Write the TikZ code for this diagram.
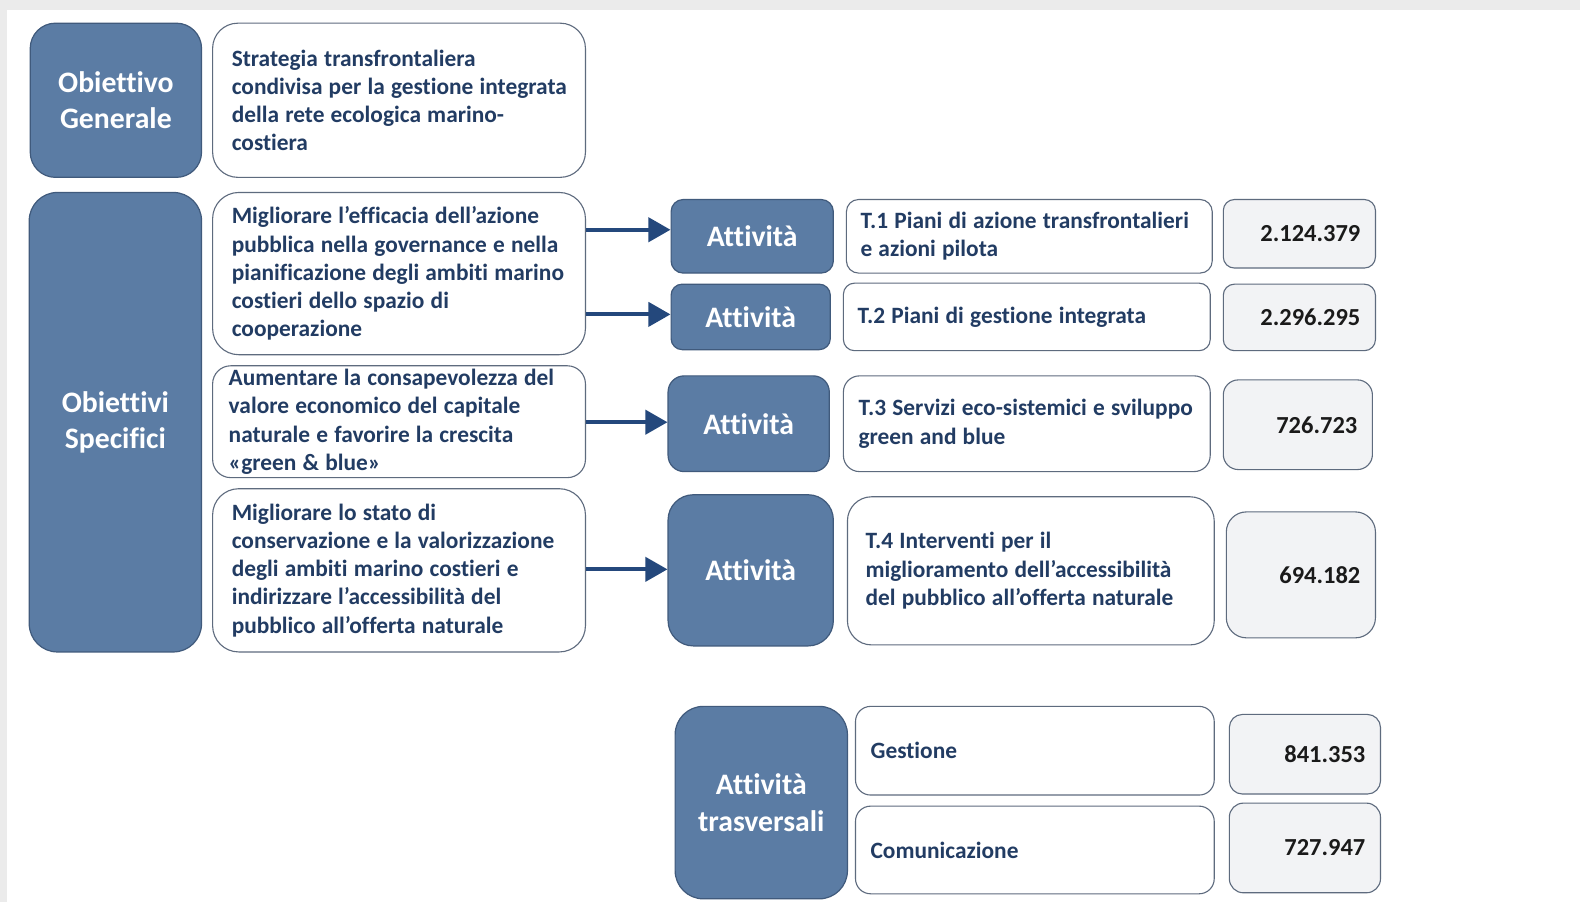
\documentclass[tikz,border=0pt]{standalone}
\usepackage{fontspec}
\setmainfont{Carlito}[Ligatures=NoCommon]
\usetikzlibrary{arrows.meta}
\definecolor{bggray}{HTML}{EBEBEB}
\definecolor{darkfill}{HTML}{5B7CA4}
\definecolor{darkline}{HTML}{405A7C}
\definecolor{navytext}{HTML}{223C63}
\definecolor{boxline}{HTML}{5E6B7E}
\definecolor{numfill}{HTML}{F2F3F5}
\definecolor{numtext}{HTML}{1A1A1A}
\definecolor{arrowcol}{HTML}{24487C}
\newcommand{\tl}[1]{\mbox{\spaceskip=0.265em\relax #1}}
\hfuzz=200pt
\hbadness=10000
\tikzset{
  darkbox/.style={draw=darkline, line width=1.2pt, fill=darkfill, text=white,
    align=center, font=\fontsize{29.5}{36}\selectfont\bfseries, inner sep=0pt},
  whitebox/.style={draw=boxline, line width=1.1pt, fill=white, text=navytext,
    align=left, font=\fontsize{23.2}{28}\selectfont\bfseries, inner ysep=0pt},
  numbox/.style={draw=boxline, line width=1.1pt, fill=numfill, text=numtext,
    align=right, font=\fontsize{24.3}{28}\selectfont\bfseries, inner ysep=0pt, inner xsep=15pt},
  arr/.style={draw=arrowcol, line width=3.8pt, -{Triangle[length=22pt,width=24pt]}}
}
\begin{document}
\begin{tikzpicture}[x=1pt,y=-1pt]
\useasboundingbox (0,0) rectangle (1568,895.15);
\fill[white] (0,0) rectangle (1568,895.15);
\fill[bggray] (0,0) rectangle (1568,10);
\fill[bggray] (0,0) rectangle (7,895.15);

% left column
\node[darkbox, minimum width=170pt, minimum height=153pt, rounded corners=25pt] (og) at (115,99.5) {Obiettivo\\Generale};
\node[darkbox, minimum width=171pt, minimum height=456pt, rounded corners=28pt] (os) at (114.5,419) {Obiettivi\\Specifici};

% objective texts
\node[whitebox, minimum height=153pt, text width=332pt, inner xsep=19pt, rounded corners=25pt] (sg) at (396,99.5)
  {\tl{Strategia transfrontaliera}\\\tl{condivisa per la gestione integrata}\\\tl{della rete ecologica marino-}\\\tl{costiera}};
\node[whitebox, minimum height=161pt, text width=332pt, inner xsep=19pt, rounded corners=26pt] (s1) at (396,271.5)
  {\tl{Migliorare l’efficacia dell’azione}\\\tl{pubblica nella governance e nella}\\\tl{pianificazione degli ambiti marino}\\\tl{costieri dello spazio di}\\\tl{cooperazione}};
\node[whitebox, minimum height=111pt, text width=338pt, inner xsep=16pt, rounded corners=18pt] (s2) at (396,418.5)
  {\tl{Aumentare la consapevolezza del}\\\tl{valore economico del capitale}\\\tl{naturale e favorire la crescita}\\\tl{«green \& blue»}};
\node[whitebox, minimum height=162pt, text width=332pt, inner xsep=19pt, rounded corners=26pt] (s3) at (396,566)
  {\tl{Migliorare lo stato di}\\\tl{conservazione e la valorizzazione}\\\tl{degli ambiti marino costieri e}\\\tl{indirizzare l'accessibilità del}\\\tl{pubblico all’offerta naturale}};

% activities
\node[darkbox, minimum width=161pt, minimum height=73pt, rounded corners=12pt] (a1) at (746.5,234.5) {Attività};
\node[darkbox, minimum width=158pt, minimum height=65pt, rounded corners=11pt] (a2) at (745,314.5) {Attività};
\node[darkbox, minimum width=160pt, minimum height=95pt, rounded corners=16pt] (a3) at (743,420.5) {Attività};
\node[darkbox, minimum width=164pt, minimum height=150pt, rounded corners=25pt] (a4) at (745,566) {Attività};

% activity descriptions
\node[whitebox, minimum height=73pt, text width=335pt, inner xsep=14pt, rounded corners=12pt] (t1) at (1021.5,234.5)
  {\tl{T.1 Piani di azione transfrontalieri}\\\tl{e azioni pilota}};
\node[whitebox, minimum height=67pt, text width=336pt, inner xsep=14pt, rounded corners=11pt] (t2) at (1019,314.5)
  {\tl{T.2 Piani di gestione integrata}};
\node[whitebox, minimum height=95pt, text width=334pt, inner xsep=15pt, rounded corners=16pt] (t3) at (1019,420.5)
  {\tl{T.3 Servizi eco-sistemici e sviluppo}\\\tl{green and blue}};
\node[whitebox, minimum height=147pt, text width=328pt, inner xsep=18pt, rounded corners=24pt] (t4) at (1023,566.5)
  {\tl{T.4 Interventi per il}\\\tl{miglioramento dell’accessibilità}\\\tl{del pubblico all’offerta naturale}};

% amounts
\node[numbox, minimum height=68pt, text width=121pt, rounded corners=11pt] (n1) at (1289.5,232) {2.124.379};
\node[numbox, minimum height=66pt, text width=121pt, rounded corners=11pt] (n2) at (1289.5,315) {2.296.295};
\node[numbox, minimum height=89pt, text width=118pt, rounded corners=15pt] (n3) at (1288,421.5) {726.723};
\node[numbox, minimum height=125pt, text width=118pt, rounded corners=20pt] (n4) at (1291,570.5) {694.182};

% transversal
\node[darkbox, minimum width=171pt, minimum height=191pt, rounded corners=28pt] (at) at (755.5,796.5) {Attività\\trasversali};
\node[whitebox, minimum height=88pt, text width=326pt, inner xsep=15pt, rounded corners=15pt] (ge) at (1027,745)
  {\tl{Gestione}};
\node[whitebox, minimum height=87pt, text width=326pt, inner xsep=15pt, rounded corners=15pt] (co) at (1027,843.5)
  {\tl{Comunicazione}};
\node[numbox, minimum height=79pt, text width=120pt, inner xsep=15pt, rounded corners=13pt] (n5) at (1295,748.5) {841.353};
\node[numbox, minimum height=89pt, text width=120pt, inner xsep=15pt, rounded corners=14pt] (n6) at (1295,841.5) {727.947};

% arrows
\coordinate (y1) at (0,228);
\coordinate (y2) at (0,312);
\coordinate (y3) at (0,419);
\coordinate (y4) at (0,565);
\draw[arr] (s1.east |- y1) -- (a1.west |- y1);
\draw[arr] (s1.east |- y2) -- (a2.west |- y2);
\draw[arr] (s2.east |- y3) -- (a3.west |- y3);
\draw[arr] (s3.east |- y4) -- (a4.west |- y4);
\end{tikzpicture}
\end{document}
